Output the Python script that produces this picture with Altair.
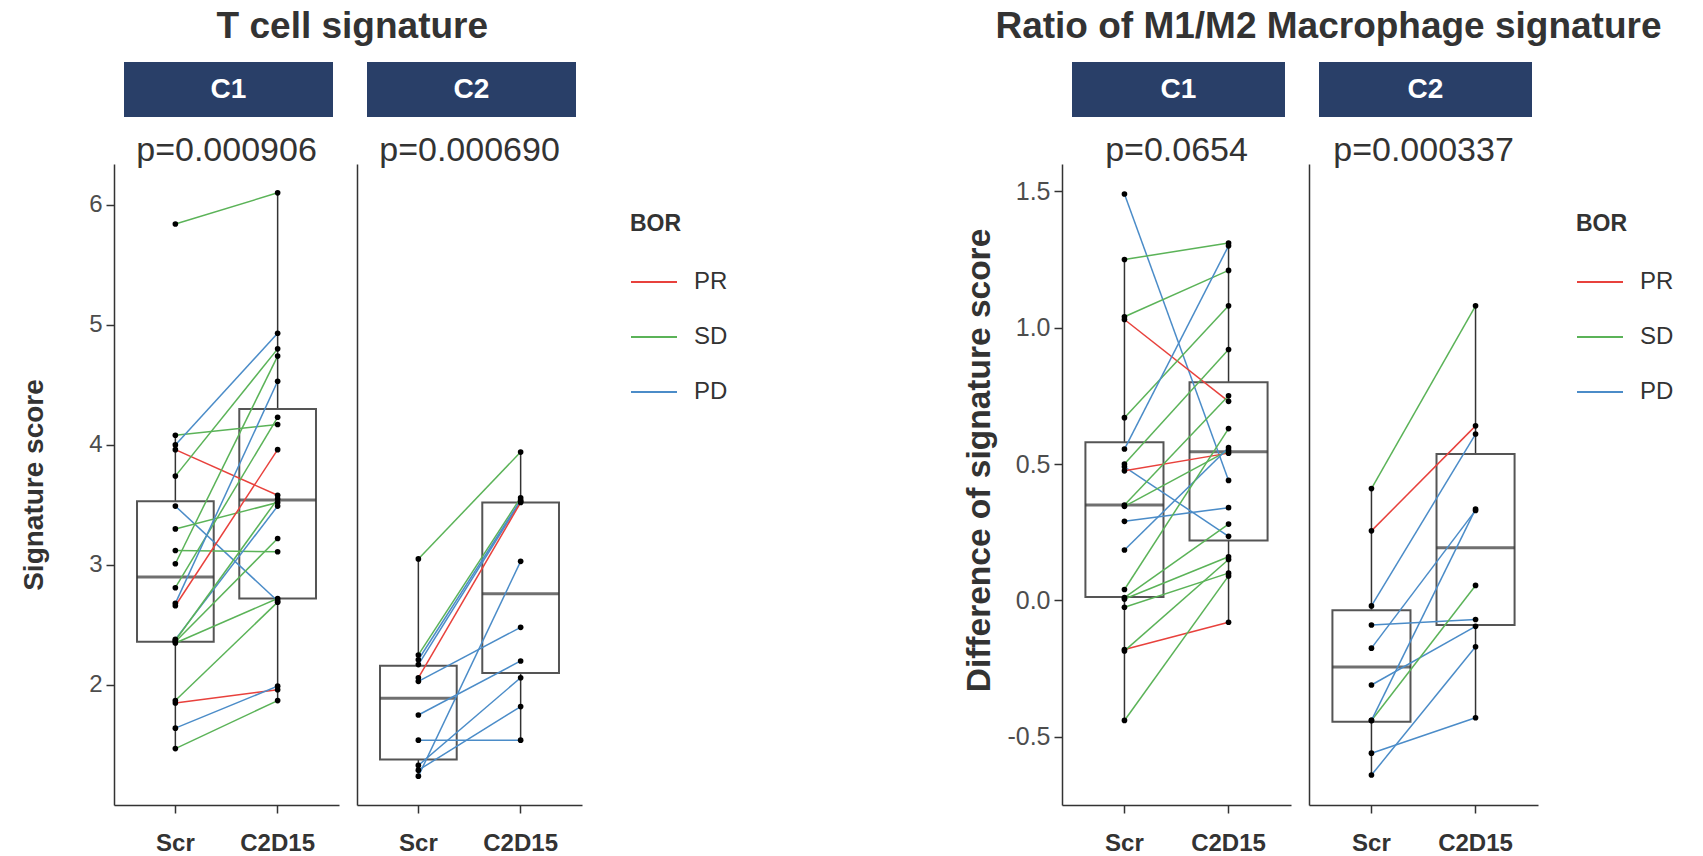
import altair as alt
import pandas as pd

FONT = "Liberation Sans"
NAVY = "#293F68"
TEXT = "#333333"
BOR_LEVELS = ["PR", "SD", "PD"]
BOR_COLORS = ["#E8413C", "#5BB358", "#4B8CC8"]
TIMEPOINTS = ["Scr", "C2D15"]

# ---------------- T cell signature ----------------
tcell_c1_bor = ["SD", "SD", "PD", "PR", "SD", "PD", "SD", "SD", "SD", "SD",
                "PD", "PR", "PD", "SD", "SD", "SD", "SD", "PR", "PD", "SD"]
tcell_c1_scr = [5.84, 4.08, 4.00, 3.96, 3.74, 3.49, 3.30, 3.12, 3.01, 2.81,
                2.68, 2.66, 2.38, 2.37, 2.36, 2.35, 1.87, 1.85, 1.64, 1.47]
tcell_c1_c2d15 = [6.10, 4.17, 4.93, 3.58, 4.80, 2.70, 3.52, 3.11, 4.74, 4.23,
                  4.53, 3.96, 3.49, 3.55, 3.22, 2.72, 2.69, 1.96, 1.99, 1.87]

tcell_c2_bor = ["SD", "SD", "PD", "PD", "PR", "PD", "PD", "PD", "PD", "PD", "PD"]
tcell_c2_scr = [3.05, 2.25, 2.21, 2.17, 2.06, 2.03, 1.75, 1.54, 1.33, 1.29, 1.24]
tcell_c2_c2d15 = [3.94, 3.56, 3.54, 3.53, 3.52, 2.48, 2.20, 1.54, 2.06, 1.82, 3.03]

# box statistics: lower whisker, Q1, median, Q3, upper whisker
tcell_c1_box_scr = [1.46, 2.36, 2.90, 3.53, 4.08]
tcell_c1_box_c2d15 = [1.87, 2.72, 3.54, 4.30, 6.10]
tcell_c2_box_scr = [1.24, 1.38, 1.89, 2.16, 3.05]
tcell_c2_box_c2d15 = [1.54, 2.10, 2.76, 3.52, 3.94]

# ---------------- Ratio of M1/M2 macrophage signature ----------------
macro_c1_bor = ["PD", "SD", "SD", "PR", "SD", "PD", "SD", "PD", "PR", "SD",
                "SD", "PD", "PD", "SD", "SD", "SD", "SD", "PR", "SD", "SD"]
macro_c1_scr = [1.49, 1.25, 1.04, 1.03, 0.67, 0.555, 0.50, 0.49, 0.475, 0.35,
                0.345, 0.29, 0.185, 0.04, 0.01, 0.005, -0.025, -0.18, -0.185, -0.44]
macro_c1_c2d15 = [0.44, 1.31, 1.21, 0.73, 1.08, 1.30, 0.92, 0.235, 0.54, 0.75,
                  0.55, 0.34, 0.56, 0.63, 0.28, 0.16, 0.10, -0.08, 0.15, 0.09]

macro_c2_bor = ["SD", "PR", "PD", "PD", "PD", "PD", "SD", "PD", "PD", "PD"]
macro_c2_scr = [0.41, 0.255, -0.02, -0.09, -0.175, -0.31, -0.44, -0.44, -0.56, -0.64]
macro_c2_c2d15 = [1.08, 0.64, 0.61, -0.07, 0.33, -0.095, 0.055, 0.335, -0.43, -0.17]

macro_c1_box_scr = [-0.44, 0.013, 0.35, 0.58, 1.25]
macro_c1_box_c2d15 = [-0.08, 0.22, 0.545, 0.80, 1.31]
macro_c2_box_scr = [-0.64, -0.445, -0.244, -0.036, 0.41]
macro_c2_box_c2d15 = [-0.43, -0.09, 0.193, 0.537, 1.08]

PANELS = ["C1", "C2"]
TCELL_P = ["p=0.000906", "p=0.000690"]
MACRO_P = ["p=0.0654", "p=0.000337"]
TCELL_TICKS = [2, 3, 4, 5, 6]
MACRO_TICKS = [-0.5, 0.0, 0.5, 1.0, 1.5]
TCELL_DOMAIN = [1.0, 6.34]
MACRO_DOMAIN = [-0.75, 1.6]


def pairs_frame(bor, scr, c2):
    rows = []
    for i, (b, a, c) in enumerate(zip(bor, scr, c2)):
        rows.append({"pid": i, "BOR": b, "time": TIMEPOINTS[0], "value": a})
        rows.append({"pid": i, "BOR": b, "time": TIMEPOINTS[1], "value": c})
    return pd.DataFrame(rows)


def box_frame(scr_stats, c2_stats):
    keys = ["lo", "q1", "med", "q3", "hi"]
    return pd.DataFrame([
        dict(time=TIMEPOINTS[0], **dict(zip(keys, scr_stats))),
        dict(time=TIMEPOINTS[1], **dict(zip(keys, c2_stats))),
    ])


PLOT_H = 641
STRIP_H = 55


def make_panel(pairs, stats, label, pval, ydomain, yticks, yfmt, ytitle,
               first, legend_xy, width, ytitle_size, ytitle_pad, tick_size, ytitle_y):
    bandw = width / 2.2 * 0.75
    xscale = alt.Scale(domain=TIMEPOINTS, paddingInner=0.25, paddingOuter=0.225)
    xaxis = alt.Axis(title=None, labelFont=FONT, labelFontSize=24,
                     labelFontWeight="bold", labelColor=TEXT, labelAngle=0,
                     tickSize=8, tickColor=TEXT, tickWidth=1.5,
                     domainColor=TEXT, domainWidth=1.5, labelPadding=18)
    if first:
        yargs = dict(title=ytitle, values=yticks, grid=False,
                     labelExpr="(datum.value < 0 ? '-' : '') + format(abs(datum.value), '%s')" % yfmt,
                     titleFont=FONT, titleFontSize=ytitle_size,
                     titleFontWeight="bold", titleColor=TEXT,
                     titlePadding=ytitle_pad,
                     labelFont=FONT, labelFontSize=tick_size,
                     labelColor="#4D4D4D", labelPadding=4,
                     tickSize=8, tickColor=TEXT, tickWidth=1.5,
                     domainColor=TEXT, domainWidth=1.5)
        if ytitle_y is not None:
            yargs["titleY"] = ytitle_y
        yaxis = alt.Axis(**yargs)
    else:
        yaxis = alt.Axis(title=None, labels=False, ticks=False, grid=False,
                         domainColor=TEXT, domainWidth=1.5)
    x = alt.X("time:N", scale=xscale, axis=xaxis, sort=TIMEPOINTS)
    yscale = alt.Scale(domain=ydomain, nice=False, zero=False)

    bx = alt.Chart(stats)
    whisk_lo = bx.mark_rule(color=TEXT, strokeWidth=1.5).encode(
        x=x, y=alt.Y("lo:Q", scale=yscale, axis=yaxis), y2="q1:Q")
    whisk_hi = bx.mark_rule(color=TEXT, strokeWidth=1.5).encode(
        x=x, y=alt.Y("q3:Q", scale=yscale, axis=yaxis), y2="hi:Q")
    box = bx.mark_bar(fill="white", stroke="#555555", strokeWidth=2).encode(
        x=x, y=alt.Y("q1:Q", scale=yscale, axis=yaxis), y2="q3:Q")
    med = bx.mark_tick(color=TEXT, thickness=3, size=bandw).encode(
        x=x, y=alt.Y("med:Q", scale=yscale, axis=yaxis))

    if legend_xy is not None:
        leg = alt.Legend(title="BOR", orient="none",
                         legendX=legend_xy[0], legendY=legend_xy[1],
                         symbolType="stroke", symbolSize=2116,
                         symbolStrokeWidth=2, rowPadding=19,
                         titleFont=FONT, titleFontSize=23, titleFontWeight="bold",
                         titleColor=TEXT, titlePadding=22,
                         labelFont=FONT, labelFontSize=24, labelColor=TEXT,
                         labelOffset=16)
    else:
        leg = None
    color = alt.Color("BOR:N", scale=alt.Scale(domain=BOR_LEVELS, range=BOR_COLORS),
                      legend=leg)
    ln = alt.Chart(pairs).mark_line(strokeWidth=1.5).encode(
        x=x, y=alt.Y("value:Q", scale=yscale, axis=yaxis), color=color,
        detail="pid:N")
    pts = alt.Chart(pairs).mark_circle(color="black", size=32, opacity=1).encode(
        x=x, y=alt.Y("value:Q", scale=yscale, axis=yaxis))

    plot = alt.layer(whisk_lo, whisk_hi, box, med, ln, pts).properties(
        width=width, height=PLOT_H,
        title=alt.TitleParams(pval, font=FONT, fontSize=34, fontWeight="normal",
                              color=TEXT, anchor="middle", offset=-4))

    sdf = pd.DataFrame({"label": [label]})
    strip_rect = alt.Chart(sdf).mark_rect(color=NAVY).encode(
        x=alt.value(10), x2=alt.value(width - 6),
        y=alt.value(0), y2=alt.value(STRIP_H))
    strip_text = alt.Chart(sdf).mark_text(color="white", font=FONT, fontSize=28,
                                          fontWeight="bold").encode(
        text="label:N", x=alt.value((width + 4) / 2), y=alt.value(STRIP_H / 2))
    strip = alt.layer(strip_rect, strip_text).properties(width=width, height=STRIP_H)

    return alt.vconcat(strip, plot, spacing=17).resolve_legend(color="independent")


def make_block(title, data, boxes, pvals, ydomain, yticks, yfmt, ytitle,
               width, legend_xy, ytitle_size, ytitle_pad, tick_size, title_dx,
               ytitle_y):
    panels = []
    for i, lab in enumerate(PANELS):
        panels.append(make_panel(
            pairs_frame(*data[i]), box_frame(*boxes[i]), lab, pvals[i],
            ydomain, yticks, yfmt, ytitle, i == 0,
            legend_xy if i == 1 else None, width, ytitle_size, ytitle_pad,
            tick_size, ytitle_y))
    return alt.hconcat(*panels, spacing=18,
                       title=alt.TitleParams(title, font=FONT, fontSize=37,
                                             fontWeight="bold", color=TEXT,
                                             anchor="middle", offset=16,
                                             dx=title_dx)
                       ).resolve_legend(color="independent")


left = make_block(
    "T cell signature",
    [(tcell_c1_bor, tcell_c1_scr, tcell_c1_c2d15),
     (tcell_c2_bor, tcell_c2_scr, tcell_c2_c2d15)],
    [(tcell_c1_box_scr, tcell_c1_box_c2d15),
     (tcell_c2_box_scr, tcell_c2_box_c2d15)],
    TCELL_P, TCELL_DOMAIN, TCELL_TICKS, "d", "Signature score",
    225, (273, 49), 28, 40, 24, -22, None)

right = make_block(
    "Ratio of M1/M2 Macrophage signature",
    [(macro_c1_bor, macro_c1_scr, macro_c1_c2d15),
     (macro_c2_bor, macro_c2_scr, macro_c2_c2d15)],
    [(macro_c1_box_scr, macro_c1_box_c2d15),
     (macro_c2_box_scr, macro_c2_box_c2d15)],
    MACRO_P, MACRO_DOMAIN, MACRO_TICKS, ".1f", "Difference of signature score",
    229, (267, 49), 33.5, 10, 25, 10, 296)

chart = alt.hconcat(left, right, spacing=234).resolve_legend(
    color="independent"
).configure(
    padding={"left": 20, "top": 8, "right": 0, "bottom": 0},
    background="white",
).configure_view(stroke=None)

chart.save("out.html", embed_options={"renderer": "svg", "actions": False})
